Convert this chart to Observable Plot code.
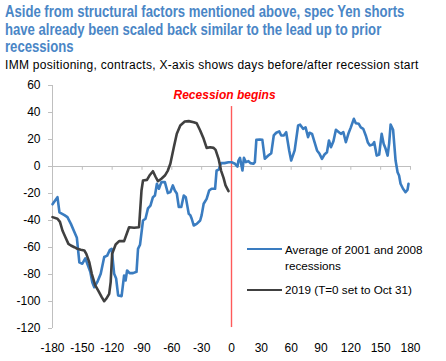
<!DOCTYPE html>
<html>
<head>
<meta charset="utf-8">
<script src="https://cdn.jsdelivr.net/npm/d3@7"></script>
<script src="https://cdn.jsdelivr.net/npm/@observablehq/plot@0.6"></script>
<style>
  html, body { margin: 0; padding: 0; background: #fff; }
  body { width: 446px; height: 361px; position: relative; overflow: hidden; font-family: "Liberation Sans", Arial, sans-serif; }
  #title { position: absolute; left: 5px; top: 3px; font-size: 16px; font-weight: bold; line-height: 17.5px; color: #4a86c6; white-space: nowrap; transform: scaleX(0.82); transform-origin: 0 0; }
  #subtitle { position: absolute; left: 5px; top: 57.8px; font-size: 12px; line-height: 14px; letter-spacing: 0.3px; color: #000; white-space: nowrap; }
  #chart { position: absolute; left: 0; top: 78px; }
  .lg-line { position: absolute; left: 247px; width: 35px; height: 2.6px; }
  .lg-text { position: absolute; left: 285px; font-size: 11.7px; line-height: 16px; color: #000; white-space: nowrap; }
</style>
</head>
<body>
<div id="title">Aside from structural factors mentioned above, spec Yen shorts<br>have already been scaled back similar to the lead up to prior<br>recessions</div>
<div id="subtitle">IMM positioning, contracts, X-axis shows days before/after recession start</div>
<div id="chart"></div>
<div class="lg-line" style="top:247.7px;background:#3a7cc0"></div>
<div class="lg-text" style="top:242.3px">Average of 2001 and 2008<br>recessions</div>
<div class="lg-line" style="top:288.7px;background:#404040"></div>
<div class="lg-text" style="top:282.3px">2019 (T=0 set to Oct 31)</div>
<script>
const seriesNames = ["Average of 2001 and 2008 recessions", "2019 (T=0 set to Oct 31)"];

const avgDays = [-180,-175,-173,-168,-165,-161.5,-158,-155.5,-153,-150,-147,-145,-142,-140,-138,-135,-131.5,-128,-125,-122.5,-120.5,-118,-116,-114,-110.5,-108,-106.5,-105,-102.5,-99,-95.5,-94,-92,-89,-86.5,-84,-81.5,-79,-77,-75,-73,-70.5,-67,-64,-61.5,-59,-57,-55,-53,-50.5,-48,-46,-43,-41.5,-40,-38,-35,-31.5,-30,-28,-25,-22.5,-20,-16.5,-15,-13,-10.5,-7,-3,0,3.5,6,7,8.5,11,12.5,14.5,17,19,22,23.5,25,28.5,31,33.5,37,40,42.5,45,48,50,52.5,55,58,60,63.5,67,69,72,74.5,77,78.5,81,83.5,86,88.5,91,93.5,96,98,100,102.5,105,108,110,112.5,115,117.5,120,123,125,128,130,132.5,135,137,139,142,143.5,146,148.5,151,153,155,157,158.5,160,162.5,165,167,168.5,170,172.5,175,177,178];
const avgValues = [-28,-22.7,-34,-36,-37.5,-42.5,-48.6,-52.8,-71,-72,-68,-72,-78,-85.7,-89.4,-85.7,-79.5,-67,-66,-62,-61,-79.5,-83,-95.5,-96,-80.7,-84.4,-77,-79,-79,-78,-61,-58,-40,-38.7,-31,-29,-22.7,-21.5,-12.8,-16.5,-11.6,-11.6,-19.7,-19,-14,-17.8,-20,-30,-30,-21.5,-22.7,-35,-36,-38.7,-43.7,-42.5,-40,-36,-27.6,-24,-17.8,-16.5,-16.5,-3,-2.5,2.5,2.5,3.2,3.2,2,0,4.4,6.4,-3,6.4,3.2,4,2.5,2,3.2,19.7,20,19.7,5.7,8.1,9.9,23,25,26,23,23,25.4,11.9,4.4,11.9,30.4,31,27.9,29,21.7,25,24.2,18,11.9,9.4,5.7,8.9,10.6,19.3,14.3,18.7,27.2,25.4,24.2,25.4,18,24.2,29,35.3,32,31.6,29,27.9,23,18,15.6,16.3,18,8.1,8.9,24.2,16.8,13.1,8.1,16.8,31,27.2,4.4,-4.2,-6.7,-12.8,-16.5,-19,-17.3,-12.8];

const y2019Days = [-180,-175,-172.5,-170,-167,-164,-161.5,-158,-155,-151.5,-148,-146,-143,-140.5,-137,-134,-130.5,-128,-126,-123,-121.5,-120,-116.5,-113,-108,-103,-98,-93,-90.5,-89,-85,-82.5,-79,-76.5,-74,-70.5,-67,-64,-61.5,-58,-55,-51.5,-47,-43,-38,-35,-31.5,-28,-25,-21.5,-18,-16,-13,-10.5,-8,-6,-3];
const y2019Values = [-37.5,-38.7,-41,-47.4,-52.4,-57.3,-58.5,-59.8,-61,-61.7,-62.2,-64.7,-70.9,-79.5,-88,-91.9,-96.8,-99.8,-98,-94.3,-85.7,-64.7,-57.8,-55.3,-55.3,-45,-45.4,-45,-17.8,-10.4,-9.9,-6.7,-3.5,-7.4,-10.9,-9.1,-6.7,-3,2,14.3,24.2,30.4,33.3,33.6,32.8,32,26.7,20.5,13.8,14.3,13.8,12.3,5.7,-3,-8.4,-14,-18.3];

const xTicks = [-180,-150,-120,-90,-60,-30,0,30,60,90,120,150,180];
const yTicks = [-120,-100,-80,-60,-40,-20,0,20,40,60];
const annotation = ["Recession begins"];

const avgData = avgDays.map((d, i) => ({day: d, value: avgValues[i], series: seriesNames[0]}));
const y2019Data = y2019Days.map((d, i) => ({day: d, value: y2019Values[i], series: seriesNames[1]}));

const axisGray = "#bfbfbf";
const chart = Plot.plot({
  width: 446,
  height: 283,
  marginTop: 7,
  marginBottom: 33,
  marginLeft: 52,
  marginRight: 36,
  x: {domain: [-180, 180], label: null},
  y: {domain: [-120, 60], label: null},
  style: {fontFamily: "'Liberation Sans', Arial, sans-serif", fontSize: "12px", color: "#000", background: "transparent", overflow: "visible"},
  marks: [
    Plot.ruleY([0], {x1: -180, x2: 180, stroke: axisGray, strokeWidth: 1}),
    Plot.ruleX(xTicks, {y1: 0, y2: -2.8, stroke: axisGray}),
    Plot.ruleX([-180], {y1: -120, y2: 60, stroke: axisGray}),
    Plot.ruleY(yTicks, {x1: -184, x2: -180, stroke: axisGray}),
    Plot.axisY(yTicks, {tickSize: 0, tickPadding: 12, tickFormat: d => String(d), fill: "#000", label: null}),
    Plot.axisX(xTicks, {tickSize: 0, tickPadding: 15, tickFormat: d => String(d), fill: "#000", label: null}),
    Plot.ruleX([0], {y1: -119.3, y2: 44.4, stroke: "#ff5a5a", strokeWidth: 1.4}),
    Plot.text(annotation, {x: -7, y: 53, text: d => d, fill: "#ff0000", fontWeight: "bold", fontStyle: "italic", fontSize: 12}),
    Plot.line(avgData, {x: "day", y: "value", stroke: "#3a7cc0", strokeWidth: 2.6, strokeLinejoin: "round"}),
    Plot.line(y2019Data, {x: "day", y: "value", stroke: "#404040", strokeWidth: 2.6, strokeLinejoin: "round"})
  ]
});
document.getElementById("chart").appendChild(chart);
</script>
</body>
</html>
